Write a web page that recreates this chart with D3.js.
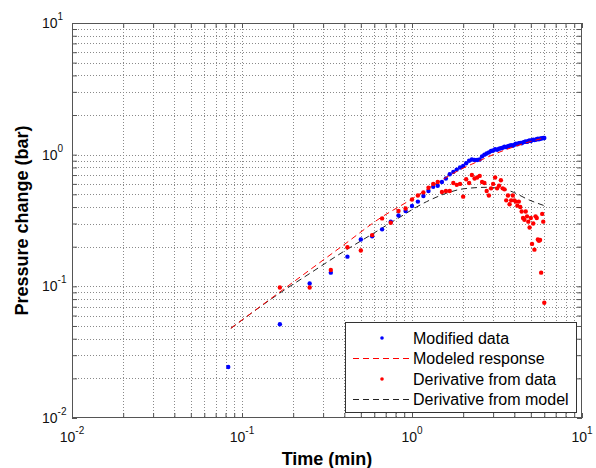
<!DOCTYPE html>
<html>
<head>
<meta charset="utf-8">
<script src="https://cdn.jsdelivr.net/npm/d3@7"></script>
<style>
  html, body { margin: 0; padding: 0; background: #fff; }
  svg { display: block; font-family: Arial, "Liberation Sans", sans-serif; }
</style>
</head>
<body>
<svg id="chart" width="596" height="468"></svg>
<script>
// Sample times (min) of the pressure record
const timeMin = [0.083,0.167,0.25,0.333,0.417,0.5,0.583,0.667,0.75,0.833,0.917,1.0,
  1.083,1.167,1.25,1.333,1.417,1.5,1.583,1.667,1.75,1.833,1.917,2.0,
  2.083,2.167,2.25,2.333,2.417,2.5,2.583,2.667,2.75,2.833,2.917,3.0,
  3.083,3.167,3.25,3.333,3.417,3.5,3.583,3.667,3.75,3.833,3.917,4.0,
  4.083,4.167,4.25,4.333,4.417,4.5,4.583,4.667,4.75,4.833,4.917,5.0,
  5.083,5.167,5.25,5.333,5.417,5.5,5.583,5.667,5.75,5.833,5.917,6.0];

// Measured pressure change (bar)
const modifiedData = [0.0244,0.0515,0.105,0.127,0.168,0.227,0.24,0.271,0.31,0.345,0.373,0.407,
  0.44,0.485,0.53,0.57,0.58,0.62,0.66,0.71,0.74,0.77,0.80,0.82,
  0.86,0.90,0.92,0.91,0.91,0.92,0.97,1.00,1.02,1.04,1.065,1.075,
  1.10,1.09,1.11,1.12,1.13,1.15,1.14,1.16,1.17,1.18,1.17,1.19,
  1.21,1.20,1.22,1.23,1.22,1.24,1.25,1.26,1.25,1.27,1.28,1.27,
  1.29,1.30,1.29,1.30,1.31,1.32,1.31,1.32,1.33,1.33,1.34,1.34];

// Pressure derivative computed from the data (starts at the second sample)
const derivTime = timeMin.slice(1);
const derivData = [0.098,0.098,0.133,0.198,0.187,0.245,0.328,0.304,0.373,0.39,0.457,0.49,0.517,0.56,0.60,
  0.62,0.52,0.53,0.53,0.61,0.59,0.60,0.48,0.65,0.61,0.70,0.66,0.67,0.69,0.62,0.61,
  0.53,0.49,0.555,0.60,0.67,0.555,0.58,0.64,0.555,0.545,0.45,0.49,0.42,0.45,0.49,0.45,
  0.44,0.41,0.44,0.40,0.37,0.33,0.32,0.37,0.34,0.31,0.28,0.33,0.21,0.30,0.19,0.34,
  0.33,0.227,0.222,0.225,0.127,0.355,0.31,0.075];

// Model curves
const modelTime = [0.086,0.165,0.25,0.394,0.65,0.97,1.46,2.0,2.5,3.0,4.0,5.0,6.0];
const modelResponse = [0.048,0.0896,0.133,0.205,0.33,0.45,0.63,0.79,0.90,1.00,1.15,1.26,1.34];
const modelDerivTime = [0.086,0.165,0.25,0.394,0.6,0.8,1.22,1.6,2.0,2.75,3.77,4.94,6.0];
const modelDeriv = [0.048,0.088,0.125,0.183,0.255,0.32,0.44,0.51,0.55,0.565,0.53,0.45,0.41];

// Axis decades
const decades = [0.01, 0.1, 1, 10];
const decadeExp = ["-2", "-1", "0", "1"];

const legendItems = [
  {label: "Modified data", kind: "dot", color: "#0000ff"},
  {label: "Modeled response", kind: "dash", color: "#ff0000"},
  {label: "Derivative from data", kind: "dot", color: "#ff0000"},
  {label: "Derivative from model", kind: "dash", color: "#222"}
];

const svg = d3.select("#chart");
const L = 72, R = 582, T = 23, B = 418;

const x = d3.scaleLog().domain([0.01, 10]).range([L, R]);
const y = d3.scaleLog().domain([0.01, 10]).range([B, T]);

const xt = x.ticks();
const yt = y.ticks();

// dotted grid at every major and minor tick
const grid = svg.append("g").attr("stroke", "#8a8a8a").attr("stroke-width", 1)
  .attr("stroke-dasharray", "1,2").attr("fill", "none");
grid.selectAll("line.v").data(xt.filter(d => d > 0.01 && d < 10)).join("line")
  .attr("class", "v")
  .attr("x1", d => Math.round(x(d)) + 0.5).attr("x2", d => Math.round(x(d)) + 0.5)
  .attr("y1", T).attr("y2", B);
grid.selectAll("line.h").data(yt.filter(d => d > 0.01 && d < 10)).join("line")
  .attr("class", "h")
  .attr("y1", d => Math.round(y(d)) + 0.5).attr("y2", d => Math.round(y(d)) + 0.5)
  .attr("x1", L).attr("x2", R);

// axes with inward ticks on all four sides
function styleAxis(g) {
  g.select(".domain").remove();
  g.selectAll(".tick line").attr("stroke", "#555");
}
svg.append("g").attr("transform", `translate(0,${B})`)
  .call(d3.axisBottom(x).tickValues(xt).tickSize(-5).tickFormat("")).call(styleAxis);
svg.append("g").attr("transform", `translate(0,${T})`)
  .call(d3.axisTop(x).tickValues(xt).tickSize(-5).tickFormat("")).call(styleAxis);
svg.append("g").attr("transform", `translate(${L},0)`)
  .call(d3.axisLeft(y).tickValues(yt).tickSize(-5).tickFormat("")).call(styleAxis);
svg.append("g").attr("transform", `translate(${R},0)`)
  .call(d3.axisRight(y).tickValues(yt).tickSize(-5).tickFormat("")).call(styleAxis);

svg.append("rect").attr("x", L + 0.5).attr("y", T + 0.5)
  .attr("width", R - L - 1).attr("height", B - T - 1)
  .attr("fill", "none").attr("stroke", "#555").attr("stroke-width", 1);

// tick labels (10 with exponent)
const xl = svg.append("g").attr("font-size", 14).attr("fill", "#111");
decades.forEach((d, i) => {
  const t = xl.append("text").attr("x", x(d)).attr("y", B + 24).attr("text-anchor", "middle");
  t.append("tspan").text("10");
  t.append("tspan").attr("dy", -8).attr("font-size", 10).text(decadeExp[i]);
});
const yl = svg.append("g").attr("font-size", 14).attr("fill", "#111");
decades.forEach((d, i) => {
  const t = yl.append("text").attr("x", 42).attr("y", y(d) + 5);
  t.append("tspan").text("10");
  t.append("tspan").attr("dy", -8).attr("font-size", 10).text(decadeExp[i]);
});

// axis titles
svg.append("text").attr("x", (L + R) / 2).attr("y", 465).attr("text-anchor", "middle")
  .attr("font-size", 18).attr("font-weight", "bold").text("Time (min)");
svg.append("text").attr("transform", `translate(28,${(T + B) / 2}) rotate(-90)`)
  .attr("text-anchor", "middle").attr("font-size", 18).attr("font-weight", "bold")
  .text("Pressure change (bar)");

// model curves
const line = (tArr, pArr) => d3.line().curve(d3.curveMonotoneX)
  .x(i => x(tArr[i])).y(i => y(pArr[i]))(d3.range(tArr.length));

svg.append("path").attr("d", line(modelDerivTime, modelDeriv))
  .attr("fill", "none").attr("stroke", "#222").attr("stroke-width", 1).attr("stroke-dasharray", "6,4");

// data points
svg.append("g").attr("fill", "#0000ff").selectAll("circle").data(timeMin).join("circle")
  .attr("cx", (d) => x(d)).attr("cy", (d, i) => y(modifiedData[i])).attr("r", 2.2);

svg.append("path").attr("d", line(modelTime, modelResponse))
  .attr("fill", "none").attr("stroke", "#ff0000").attr("stroke-width", 1).attr("stroke-dasharray", "6,4");

svg.append("g").attr("fill", "#ff0000").selectAll("circle").data(derivTime).join("circle")
  .attr("cx", (d) => x(d)).attr("cy", (d, i) => y(derivData[i])).attr("r", 2.2);

// legend
const lg = svg.append("g");
lg.append("rect").attr("x", 345.5).attr("y", 322.5).attr("width", 231).attr("height", 90)
  .attr("fill", "#fff").attr("stroke", "#333").attr("stroke-width", 1);
legendItems.forEach((it, i) => {
  const cy = 338 + i * 20.5;
  if (it.kind === "dot") {
    lg.append("circle").attr("cx", 382).attr("cy", cy).attr("r", 1.8).attr("fill", it.color);
  } else {
    lg.append("line").attr("x1", 353).attr("x2", 411).attr("y1", cy).attr("y2", cy)
      .attr("stroke", it.color).attr("stroke-width", 1).attr("stroke-dasharray", "6,4");
  }
  lg.append("text").attr("x", 413).attr("y", cy + 5.5).attr("font-size", 16).attr("fill", "#000")
    .text(it.label);
});
</script>
</body>
</html>
